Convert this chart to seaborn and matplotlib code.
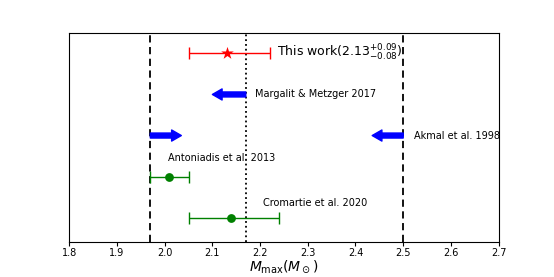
import matplotlib
matplotlib.use("Agg")
import matplotlib.pyplot as plt
import seaborn as sns
import pandas as pd

# measurements with asymmetric errors
names = ["This work", "Antoniadis et al. 2013", "Cromartie et al. 2020"]
mass = [2.13, 2.01, 2.14]
err_lo = [0.08, 0.04, 0.09]
err_hi = [0.09, 0.04, 0.10]
ypos = [5, 2, 1]
colors = ["red", "green", "green"]

# limits shown as arrows (tail, tip)
lim_names = ["Margalit & Metzger 2017", "Akmal et al. 1998", "Antoniadis et al. 2013"]
lim_from = [2.17, 2.50, 1.97]
lim_to = [2.10, 2.435, 2.035]
lim_y = [4, 3, 3]

vlines_dash = [1.97, 2.5]
vline_dot = 2.17

sns.set_style("ticks", {"text.color": "black", "axes.labelcolor": "black",
                        "xtick.color": "black", "axes.edgecolor": "black"})
fig, ax = plt.subplots(figsize=(5.54, 2.77), dpi=100)
fig.subplots_adjust(left=0.125, right=0.9, top=0.88, bottom=0.128)

df = pd.DataFrame({"name": names, "mass": mass, "y": ypos})

for i in range(len(names)):
    ax.errorbar(mass[i], ypos[i], xerr=[[err_lo[i]], [err_hi[i]]], fmt="none",
                ecolor=colors[i], elinewidth=1, capsize=4, capthick=1, zorder=3)

sns.scatterplot(data=df.iloc[:1], x="mass", y="y", marker="*", s=90, color="red",
                edgecolor="red", linewidth=0, ax=ax, zorder=4)
sns.scatterplot(data=df.iloc[1:], x="mass", y="y", marker="o", s=40, color="green",
                edgecolor="green", linewidth=0, ax=ax, zorder=4)

for a, b, y in zip(lim_from, lim_to, lim_y):
    ax.annotate("", xy=(b, y), xytext=(a, y),
                arrowprops=dict(width=3.6, headwidth=8, headlength=7,
                                color="blue", shrink=0), zorder=3)

for x in vlines_dash:
    ax.axvline(x, color="black", ls=(0, (4, 2.5)), lw=1.3, zorder=2)
ax.axvline(vline_dot, color="black", ls=":", lw=1.3, zorder=2)

ax.text(2.235, 5, r"This work$(2.13^{+0.09}_{-0.08})$", fontsize=9, va="center")
ax.text(2.19, 4, "Margalit & Metzger 2017", fontsize=7, va="center")
ax.text(2.522, 3, "Akmal et al. 1998", fontsize=7, va="center")
ax.text(2.007, 2.46, "Antoniadis et al. 2013", fontsize=7, va="center")
ax.text(2.206, 1.36, "Cromartie et al. 2020", fontsize=7, va="center")

ax.set_xlim(1.8, 2.7)
ax.set_ylim(0.42, 5.49)
ax.set_xticks([1.8, 1.9, 2.0, 2.1, 2.2, 2.3, 2.4, 2.5, 2.6, 2.7])
ax.tick_params(axis="x", labelsize=7, length=3, width=0.8, pad=2)
ax.set_yticks([])
ax.set_ylabel("")
ax.set_xlabel(r"$M_{\rm max}(M_\odot)$", fontsize=10, labelpad=0)
for s in ax.spines.values():
    s.set_linewidth(0.8)
    s.set_color("black")

fig.savefig("out.png", dpi=100)
